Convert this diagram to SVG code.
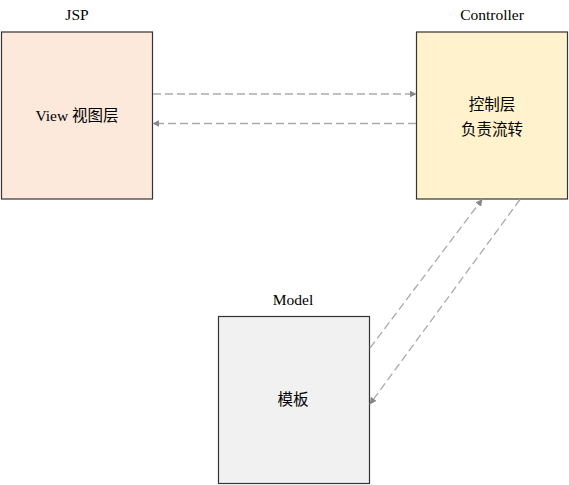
<svg xmlns="http://www.w3.org/2000/svg" width="569" height="485" viewBox="0 0 569 485">
<style>
text{font-family:"Liberation Serif","Noto Sans CJK SC",serif;font-size:15.5px;fill:#000;text-anchor:middle;dominant-baseline:central}
.box{stroke:#333;stroke-width:1.2}
.conn{fill:none;stroke:#aaa;stroke-width:1.3;stroke-dasharray:8 4}
</style>
<defs>
<marker id="ah" viewBox="0 0 10 10" refX="9" refY="5" markerWidth="7" markerHeight="7" markerUnits="userSpaceOnUse" orient="auto">
<path d="M0,0 L10,5 L0,10 Z" fill="#888"/>
</marker>
</defs>
<rect width="569" height="485" fill="#fff"/>
<g id="jsp">
<rect class="box" x="1.5" y="32" width="151" height="167" fill="#FCE9DB"/>
<text x="77" y="14">JSP</text>
<text x="77" y="115">View 视图层</text>
</g>
<g id="controller">
<rect class="box" x="416.5" y="32" width="151" height="167" fill="#FFF2CC"/>
<text x="492" y="14">Controller</text>
<text x="492" y="104">控制层</text>
<text x="492" y="129">负责流转</text>
</g>
<g id="model">
<rect class="box" x="218.5" y="316.5" width="151" height="167" fill="#F1F1F1"/>
<text x="293" y="299">Model</text>
<text x="293" y="399">模板</text>
</g>
<g id="connectors">
<line class="conn" x1="153" y1="94" x2="416" y2="94" marker-end="url(#ah)"/>
<line class="conn" x1="416" y1="123.5" x2="153" y2="123.5" marker-end="url(#ah)"/>
<line class="conn" x1="370" y1="348" x2="482" y2="199.5" marker-end="url(#ah)"/>
<line class="conn" x1="520" y1="199.5" x2="370" y2="404" marker-end="url(#ah)"/>
</g>
</svg>
